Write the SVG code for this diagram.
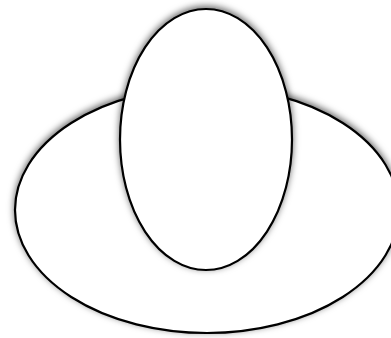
<svg xmlns="http://www.w3.org/2000/svg" width="391" height="338" viewBox="0 0 391 338">
<defs>
<filter id="sh" x="-20%" y="-20%" width="140%" height="140%">
<feDropShadow dx="0" dy="-2" stdDeviation="3.5" flood-color="#000" flood-opacity="0.6"/>
</filter>
<style>
.e{fill:#fff;stroke:#000;stroke-width:2.2;filter:url(#sh);}
</style>
</defs>
<rect width="391" height="338" fill="#fff"/>
<g id="outer"><ellipse class="e" cx="207" cy="210" rx="192" ry="123"/></g>
<g id="inner"><ellipse class="e" cx="206" cy="139.5" rx="86" ry="130.5"/></g>
<g id="connectors"/>
</svg>
